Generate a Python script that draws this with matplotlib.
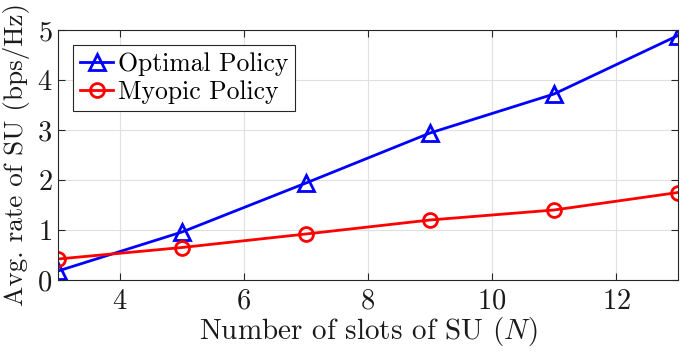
import matplotlib
matplotlib.use("Agg")
import matplotlib.pyplot as plt

N = [3, 5, 7, 9, 11, 13]
optimal = [0.18, 0.96, 1.94, 2.94, 3.72, 4.89]
myopic = [0.42, 0.65, 0.92, 1.20, 1.40, 1.75]
xticks = [4, 6, 8, 10, 12]
yticks = [0, 1, 2, 3, 4, 5]

plt.rcParams['font.family'] = 'serif'
plt.rcParams['font.serif'] = ['cmr10']
plt.rcParams['mathtext.fontset'] = 'cm'
plt.rcParams['axes.formatter.use_mathtext'] = True

fig = plt.figure(figsize=(6.89, 3.52), dpi=100)
ax = fig.add_axes([58/689, 72/352, 620/689, 250/352])

ax.plot(N, optimal, color=(0, 0, 1), lw=2.0, marker='^', ms=12, mfc='none', mew=2.0, label='Optimal Policy')
ax.plot(N, myopic, color=(1, 0, 0), lw=2.0, marker='o', ms=10, mfc='none', mew=2.0, label='Myopic Policy')

ax.set_xlim(3, 13)
ax.set_ylim(0, 5)
ax.set_xticks(xticks)
ax.set_yticks(yticks)
ax.grid(True, color=(0.88, 0.88, 0.88), lw=0.8)
ax.set_axisbelow(True)
for s in ax.spines.values():
    s.set_color((0.15, 0.15, 0.15))
    s.set_linewidth(0.8)
ax.tick_params(direction='in', top=True, right=True, length=5, width=0.8,
               colors=(0.15, 0.15, 0.15), labelsize=20.5, labelcolor=(0.1, 0.1, 0.1))
ax.tick_params(axis='x', pad=6)
ax.tick_params(axis='y', pad=4)
ax.set_xlabel('Number of slots of SU ($N$)', fontsize=21, color=(0.1, 0.1, 0.1), labelpad=0)
ax.set_ylabel('Avg. rate of SU (bps/Hz)', fontsize=19.5, color=(0.1, 0.1, 0.1), labelpad=5)

leg = ax.legend(loc='upper left', fontsize=18.5, fancybox=False, framealpha=1,
                edgecolor=(0.15, 0.15, 0.15), borderpad=0.25, handlelength=1.3,
                handletextpad=0.2, labelspacing=0.2, borderaxespad=0.6)
leg.get_frame().set_linewidth(0.8)

fig.savefig('out.png', dpi=100)
